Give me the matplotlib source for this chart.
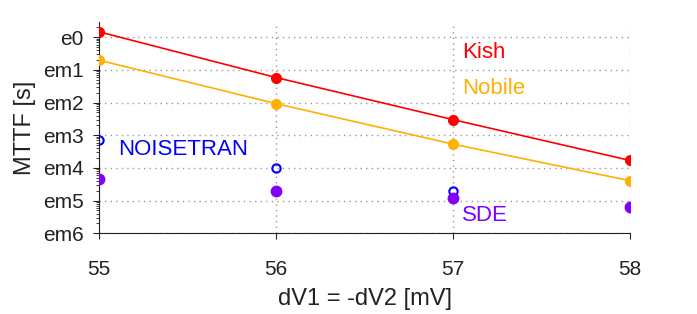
import matplotlib
matplotlib.use('Agg')
import matplotlib.pyplot as plt
from matplotlib.ticker import FixedLocator, FixedFormatter, LogLocator, NullFormatter

# (log10 of MTTF in seconds)
dv = [55, 56, 57, 58]
kish = [10 ** 0.17, 10 ** -1.23, 10 ** -2.52, 10 ** -3.77]
nobile = [10 ** -0.70, 10 ** -2.03, 10 ** -3.27, 10 ** -4.39]
noisetran_dv = [55, 56, 57]
noisetran = [10 ** -3.14, 10 ** -3.99, 10 ** -4.69]
sde = [10 ** -4.34, 10 ** -4.72, 10 ** -4.93, 10 ** -5.21]

ytick_vals = [1e0, 1e-1, 1e-2, 1e-3, 1e-4, 1e-5, 1e-6]
ytick_labels = ['e0', 'em1', 'em2', 'em3', 'em4', 'em5', 'em6']

RED = '#ff0000'
ORANGE = '#ffb000'
BLUE = '#0000ff'
PURPLE = '#7f00ff'
INK = '#222222'

plt.rcParams['font.family'] = ['Liberation Sans', 'DejaVu Sans']

fig = plt.figure(figsize=(6.97, 3.14), dpi=100)
ax = fig.add_axes([0.142, 0.257, 0.762, 0.673])

ax.semilogy(dv, kish, '-', color=RED, lw=1.2, marker='o', ms=7, zorder=3)
ax.semilogy(dv, nobile, '-', color=ORANGE, lw=1.2, marker='o', ms=7, zorder=3)
ax.semilogy(noisetran_dv, noisetran, 'o', mfc='none', mec=BLUE, mew=1.5,
            ms=6, zorder=3)
ax.semilogy(dv, sde, 'o', color=PURPLE, ms=7.5, zorder=3)

ax.set_xlim(55, 58)
ax.set_ylim(1e-6, 10 ** 0.47)
ax.set_xticks(dv)
ax.yaxis.set_major_locator(FixedLocator(ytick_vals))
ax.yaxis.set_major_formatter(FixedFormatter(ytick_labels))
ax.yaxis.set_minor_locator(LogLocator(base=10, subs=range(2, 10), numticks=20))
ax.yaxis.set_minor_formatter(NullFormatter())

ax.grid(True, which='major', linestyle=(0, (1, 3)), color='#999999', lw=1)
for side in ('top', 'right'):
    ax.spines[side].set_visible(False)
ax.spines['left'].set_color(INK)
ax.spines['bottom'].set_color(INK)
ax.tick_params(axis='both', which='major', labelsize=15, length=4,
               direction='out', colors=INK)
ax.tick_params(axis='y', which='minor', length=2.5, direction='out',
               colors=INK)
ax.tick_params(axis='x', pad=15)
ax.tick_params(axis='y', pad=7)

ax.set_xlabel('dV1 = -dV2 [mV]', fontsize=17, color=INK, labelpad=7)
ax.set_ylabel('MTTF [s]', fontsize=17, color=INK, labelpad=5)

ax.text(57.05, 10 ** -0.46, 'Kish', color=RED, fontsize=16, va='center')
ax.text(57.05, 10 ** -1.56, 'Nobile', color=ORANGE, fontsize=16, va='center')
ax.text(55.11, 10 ** -3.44, 'NOISETRAN', color=BLUE, fontsize=16, va='center')
ax.text(57.05, 10 ** -5.44, 'SDE', color=PURPLE, fontsize=16, va='center')

fig.savefig('out.png', dpi=100)
